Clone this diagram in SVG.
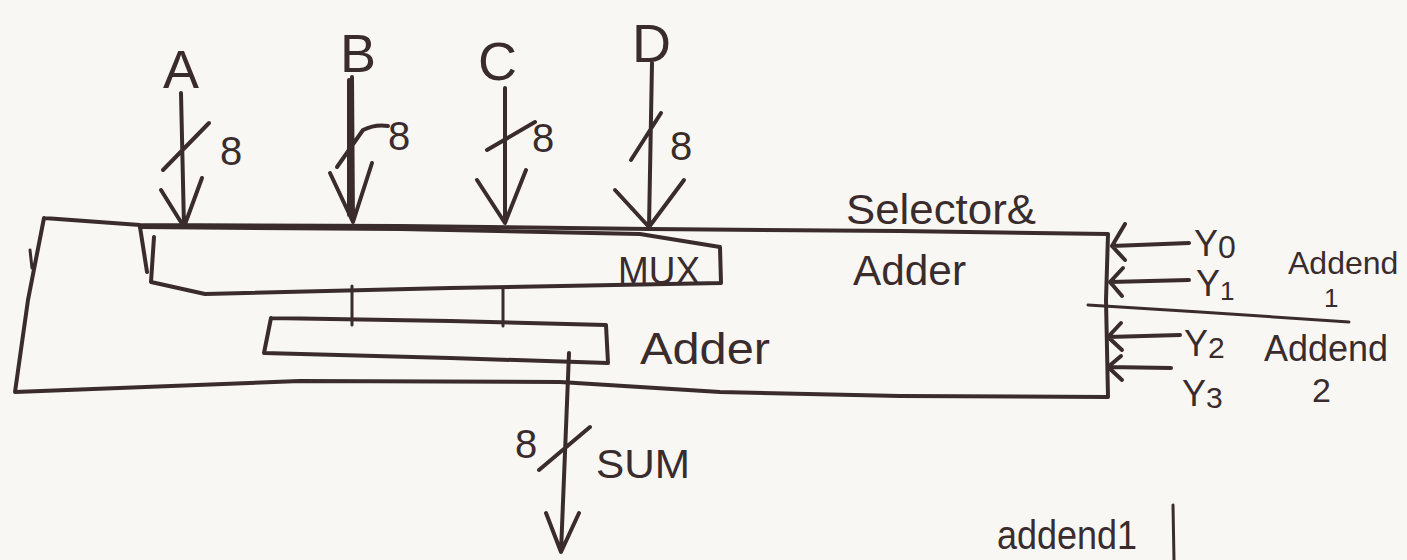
<svg xmlns="http://www.w3.org/2000/svg" width="1407" height="560" viewBox="0 0 1407 560">
  <style>
    .ink { fill: none; stroke: #3a2c2c; stroke-width: 4; stroke-linecap: round; stroke-linejoin: round; }
    .thin { fill: none; stroke: #3a2c2c; stroke-width: 3; stroke-linecap: round; stroke-linejoin: round; }
    .lbl { fill: #3a2c2c; font-family: "Liberation Sans", "DejaVu Sans", sans-serif; }
  </style>
  <rect width="1407" height="560" fill="#f8f7f4"/>

  <!-- Selector & Adder block -->
  <g id="selector-adder">
    <path class="ink" d="M44,218 L140,225 L400,226 L650,229 L900,231 L1108,234 L1106,300 L1108,397 L900,396 L720,392 L560,382 L300,381 L15,392 L28,300 L44,218"/>
    <path class="thin" d="M30,250 L32,268"/>
    <text class="lbl" x="846" y="224" font-size="42" textLength="190" lengthAdjust="spacingAndGlyphs">Selector&amp;</text>
    <text class="lbl" x="853" y="285" font-size="42" textLength="113" lengthAdjust="spacingAndGlyphs">Adder</text>
  </g>

  <!-- MUX block -->
  <g id="mux">
    <path class="ink" d="M140,227 L147,272"/>
    <path class="ink" d="M140,227 L400,229 L640,234 L720,247 L721,283 L450,288 L205,294 L151,282 L154,237"/>
    <text class="lbl" x="618" y="284" font-size="38" textLength="82" lengthAdjust="spacingAndGlyphs">MUX</text>
  </g>

  <!-- Adder block -->
  <g id="adder">
    <path class="ink" d="M271,318 L450,321 L606,325 L608,363 L450,358 L264,353 L271,318"/>
    <text class="lbl" x="640" y="364" font-size="44" textLength="130" lengthAdjust="spacingAndGlyphs">Adder</text>
  </g>

  <!-- Input labels -->
  <g id="in-a"><text class="lbl" x="163" y="88" font-size="54">A</text></g>
  <g id="in-b"><text class="lbl" x="340" y="72" font-size="54">B</text></g>
  <g id="in-c"><text class="lbl" x="478" y="80" font-size="54">C</text></g>
  <g id="in-d"><text class="lbl" x="632" y="62" font-size="54">D</text></g>

  <!-- Select / addend inputs -->
  <g id="in-y">
    <text class="lbl" x="1194" y="256" font-size="36">Y<tspan font-size="32" dy="2">0</tspan></text>
    <text class="lbl" x="1196" y="296" font-size="36">Y<tspan font-size="26" dy="4">1</tspan></text>
    <text class="lbl" x="1184" y="356" font-size="36">Y<tspan font-size="30" dy="2">2</tspan></text>
    <text class="lbl" x="1182" y="406" font-size="36">Y<tspan font-size="30" dy="2">3</tspan></text>
  </g>

  <!-- Addend grouping -->
  <g id="addend-groups">
    <path class="thin" d="M1088,305 L1200,312 L1349,322"/>
    <text class="lbl" x="1288" y="274" font-size="32">Addend</text>
    <text class="lbl" x="1324" y="307" font-size="26">1</text>
    <text class="lbl" x="1264" y="361" font-size="36">Addend</text>
    <text class="lbl" x="1312" y="402" font-size="34">2</text>
  </g>

  <!-- Output label -->
  <g id="out-sum">
    <text class="lbl" x="515" y="458" font-size="40">8</text>
    <text class="lbl" x="596" y="478" font-size="40" textLength="94" lengthAdjust="spacingAndGlyphs">SUM</text>
  </g>

  <!-- Side note -->
  <g id="note">
    <text class="lbl" x="997" y="549" font-size="40" textLength="140" lengthAdjust="spacingAndGlyphs">addend1</text>
    <path class="thin" d="M1173,505 L1174,560"/>
  </g>

  <!-- Connectors -->
  <g id="connectors">
    <!-- A -->
    <path class="ink" d="M181,93 L184,227 M161,190 L184,227 L202,178 M163,170 L209,123"/>
    <text class="lbl" x="220" y="165" font-size="40">8</text>
    <!-- B -->
    <path class="ink" d="M352,77 L353,222 M349,80 L349,215 M330,173 L353,222 L372,163 M337,167 L363,130 Q375,124 388,126"/>
    <text class="lbl" x="388" y="150" font-size="40">8</text>
    <!-- C -->
    <path class="ink" d="M505,88 L505,223 M477,180 L505,223 L526,170 M487,150 L535,122"/>
    <text class="lbl" x="532" y="152" font-size="40">8</text>
    <!-- D -->
    <path class="ink" d="M652,63 L649,227 M615,190 L649,227 L684,180 M631,160 L661,113"/>
    <text class="lbl" x="670" y="160" font-size="40">8</text>

    <!-- MUX to adder -->
    <path class="thin" d="M352,286 L352,325"/>
    <path class="thin" d="M503,289 L503,326"/>

    <!-- SUM output -->
    <path class="ink" d="M569,353 L561,552 M546,513 L561,552 L579,513 M539,470 L590,427"/>

    <!-- Y inputs -->
    <path class="ink" d="M1189,243 L1112,246 M1125,224 L1112,246 L1125,260"/>
    <path class="ink" d="M1189,280 L1110,282 M1123,268 L1110,282 L1122,296"/>
    <path class="ink" d="M1180,335 L1108,337 M1121,323 L1108,337 L1122,350"/>
    <path class="ink" d="M1171,368 L1108,367 M1121,356 L1108,367 L1122,380"/>
  </g>
</svg>
